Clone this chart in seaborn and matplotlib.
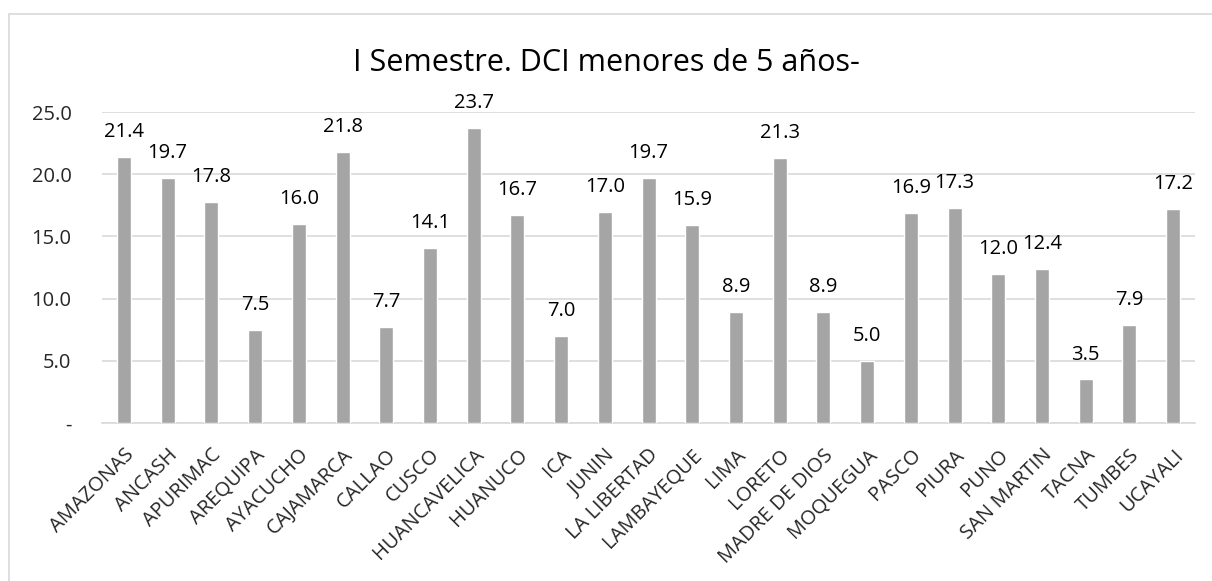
import matplotlib
matplotlib.use("Agg")
import matplotlib.pyplot as plt
import seaborn as sns
import pandas as pd
from matplotlib.patches import Rectangle

# datos
regiones = ['AMAZONAS', 'ANCASH', 'APURIMAC', 'AREQUIPA', 'AYACUCHO', 'CAJAMARCA',
            'CALLAO', 'CUSCO', 'HUANCAVELICA', 'HUANUCO', 'ICA', 'JUNIN',
            'LA LIBERTAD', 'LAMBAYEQUE', 'LIMA', 'LORETO', 'MADRE DE DIOS',
            'MOQUEGUA', 'PASCO', 'PIURA', 'PUNO', 'SAN MARTIN', 'TACNA',
            'TUMBES', 'UCAYALI']
valores = [21.4, 19.7, 17.8, 7.5, 16.0, 21.8, 7.7, 14.1, 23.7, 16.7, 7.0, 17.0,
           19.7, 15.9, 8.9, 21.3, 8.9, 5.0, 16.9, 17.3, 12.0, 12.4, 3.5, 7.9, 17.2]
yticks = [0, 5, 10, 15, 20, 25]
ytick_labels = ['-', '5.0', '10.0', '15.0', '20.0', '25.0']

df = pd.DataFrame({'region': regiones, 'dci': valores})

sns.set_style("white")
plt.rcParams['font.family'] = ['Open Sans', 'DejaVu Sans']

fig = plt.figure(figsize=(12.12, 5.81), dpi=100)
ax = fig.add_axes([0.0842, 0.272, 0.9018, 0.535])

sns.barplot(data=df, x='region', y='dci', color='#A5A5A5', width=0.32,
            saturation=1, ax=ax, zorder=3)

# etiquetas de datos
for i, v in enumerate(valores):
    ax.text(i, v + 1.2, f'{v:.1f}', ha='center', va='bottom', fontsize=14.5,
            color='#000000')

ax.set_ylim(0, 25)
ax.set_xlim(-0.5, len(regiones) - 0.5)
ax.set_yticks(yticks)
ax.set_yticklabels(ytick_labels, fontsize=14.5)
ax.set_xticks(range(len(regiones)))
ax.set_xticklabels(regiones, rotation=45, ha='right', rotation_mode='anchor',
                   fontsize=14.5)
ax.tick_params(axis='y', length=0, pad=22)
ax.tick_params(axis='x', length=0, pad=16)
ax.set_xlabel('')
ax.set_ylabel('')
ax.grid(axis='y', color='#D9D9D9', linewidth=1.2, zorder=0)
for s in ['top', 'right', 'left']:
    ax.spines[s].set_visible(False)
ax.spines['bottom'].set_color('#D9D9D9')
ax.spines['bottom'].set_linewidth(1.2)

fig.suptitle('I Semestre. DCI menores de 5 años-', x=0.5, y=0.918,
             fontsize=22, color='#000000')

# marco del gráfico
fig.patches.append(Rectangle((9 / 1212, -0.05), 1.2, 1 - 14 / 581 + 0.05,
                             transform=fig.transFigure, fill=False,
                             edgecolor='#D9D9D9', linewidth=1.2))

fig.savefig('out.png', dpi=100)
